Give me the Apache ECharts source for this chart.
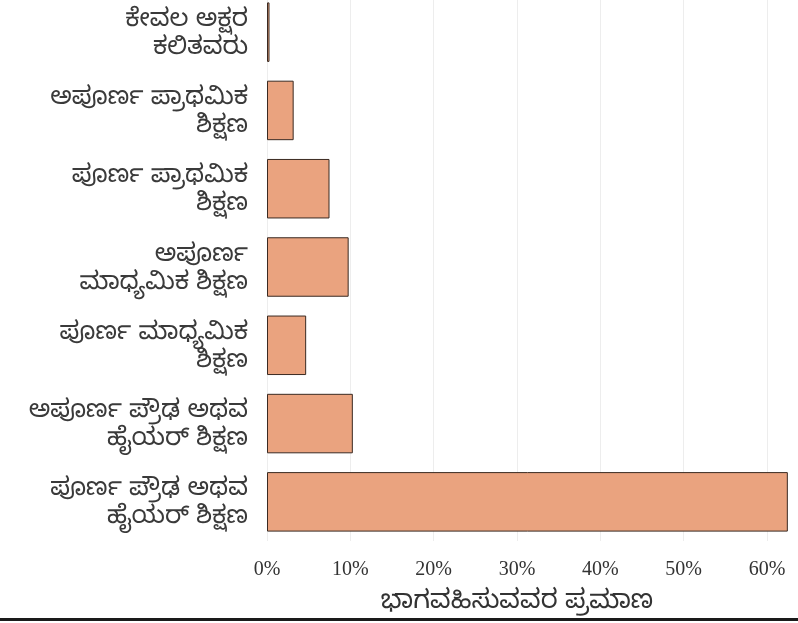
<!DOCTYPE html>
<html>
<head>
<meta charset="utf-8">
<script src="https://cdn.jsdelivr.net/npm/echarts@6/dist/echarts.min.js"></script>
<style>
html,body{margin:0;padding:0;background:#fff;overflow:hidden;}
#chart{width:798px;height:630px;margin-top:-7px;}
</style>
</head>
<body>
<div id="chart"></div>
<script>
var categories = [
  "ಕೇವಲ ಅಕ್ಷರ\nಕಲಿತವರು",
  "ಅಪೂರ್ಣ ಪ್ರಾಥಮಿಕ\nಶಿಕ್ಷಣ",
  "ಪೂರ್ಣ ಪ್ರಾಥಮಿಕ\nಶಿಕ್ಷಣ",
  "ಅಪೂರ್ಣ\nಮಾಧ್ಯಮಿಕ ಶಿಕ್ಷಣ",
  "ಪೂರ್ಣ ಮಾಧ್ಯಮಿಕ\nಶಿಕ್ಷಣ",
  "ಅಪೂರ್ಣ ಪ್ರೌಢ ಅಥವ\nಹೈಯರ್ ಶಿಕ್ಷಣ",
  "ಪೂರ್ಣ ಪ್ರೌಢ ಅಥವ\nಹೈಯರ್ ಶಿಕ್ಷಣ"
];
var values = [0.3, 3.2, 7.5, 9.8, 4.7, 10.3, 62.5];
var xTicks = [0, 10, 20, 30, 40, 50, 60];
var xTitle = "ಭಾಗವಹಿಸುವವರ ಪ್ರಮಾಣ";

var kn = 'Noto Sans Kannada, Noto Sans, sans-serif';
var chart = echarts.init(document.getElementById('chart'));
chart.setOption({
  animation: false,
  grid: {left: 267, top: 0, width: 500, height: 551, containLabel: false},
  xAxis: {
    type: 'value',
    min: xTicks[0],
    max: xTicks[xTicks.length - 1],
    interval: xTicks[1] - xTicks[0],
    axisLine: {show: false},
    axisTick: {show: false},
    splitLine: {show: true, lineStyle: {color: '#ededed', width: 1}},
    axisLabel: {
      formatter: function (v) { return v + '%'; },
      fontFamily: 'Liberation Serif',
      fontSize: 20,
      color: '#333',
      margin: 19
    },
    name: xTitle,
    nameLocation: 'middle',
    nameGap: 51,
    nameTextStyle: {fontSize: 26, color: '#333', fontFamily: kn}
  },
  yAxis: {
    type: 'category',
    data: categories,
    inverse: true,
    axisLine: {show: false},
    axisTick: {show: false},
    axisLabel: {
      formatter: function (v) {
        var parts = v.split('\n');
        return '{p|' + parts[0] + '}\n{p|' + parts[1] + '}';
      },
      align: 'right',
      margin: 19,
      rich: {
        p: {fontSize: 25, lineHeight: 28, color: '#3a3a3a', fontFamily: kn, align: 'right', padding: [10, 0, 0, 0]}
      }
    }
  },
  series: [{
    type: 'bar',
    data: values,
    barWidth: '76%',
    clip: false,
    itemStyle: {color: '#EAA37F', borderColor: '#3a2a22', borderWidth: 1}
  }],
  graphic: [{
    type: 'rect',
    shape: {x: 0, y: 625, width: 798, height: 3},
    style: {fill: '#1a1a1a'}
  }]
});
</script>
</body>
</html>
